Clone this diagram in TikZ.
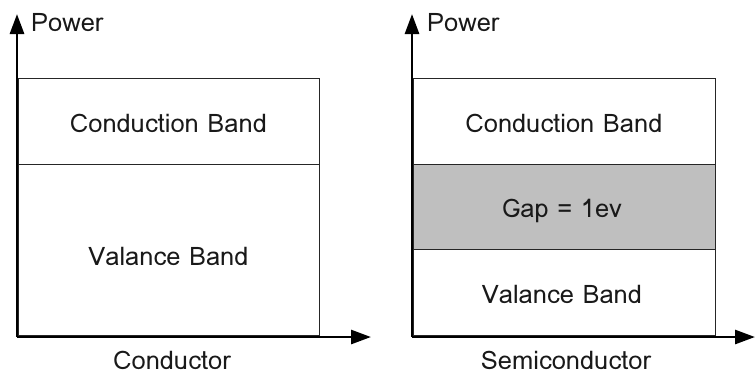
\documentclass[tikz,border=0pt]{standalone}
\usepackage{fontspec}
\newfontfamily\thaifont[Script=Thai]{Loma}
\usetikzlibrary{arrows.meta}
\begin{document}
\begin{tikzpicture}[x=1pt,y=-1pt,
  band/.style={draw=black!85,line width=0.9pt,inner sep=0pt},
  axis/.style={line width=2.8pt,-{Triangle[length=20pt,width=14pt]}},
  lbl/.style={font=\thaifont\fontsize{25.5}{28}\selectfont,text=black!90,inner sep=0pt,anchor=base}]
\useasboundingbox (0,0) rectangle (755,376);
% left chart
\draw[band] (18,78) rectangle (319,164);
\draw[band] (18,164) rectangle (319,335);
\node[lbl] (lc) at (168.5,132) {Conduction Band};
\node[lbl] (lv) at (168.5,265) {Valance Band};
\coordinate (lo) at (17,337);
\coordinate (ly) at (17,14);
\coordinate (lx) at (371,337);
\draw[axis] (lo) -- (ly);
\draw[axis] (lo) -- (lx);
\node[lbl,anchor=base west] (lp) at (31,31) {Power};
\node[lbl] (lname) at (172,369) {Conductor};
% right chart
\draw[band] (413,78) rectangle (715,164);
\draw[band,fill=black!25] (413,164) rectangle (715,249);
\draw[band] (413,249) rectangle (715,335);
\node[lbl] (rc) at (564,132) {Conduction Band};
\node[lbl] (rg) at (562,217) {Gap = 1ev};
\node[lbl] (rv) at (562,303) {Valance Band};
\coordinate (ro) at (412,337);
\coordinate (ry) at (412,14);
\coordinate (rx) at (755,337);
\draw[axis] (ro) -- (ry);
\draw[axis] (ro) -- (rx);
\node[lbl,anchor=base west] (rp) at (427,31) {Power};
\node[lbl] (rname) at (566,369) {Semiconductor};
\end{tikzpicture}
\end{document}
